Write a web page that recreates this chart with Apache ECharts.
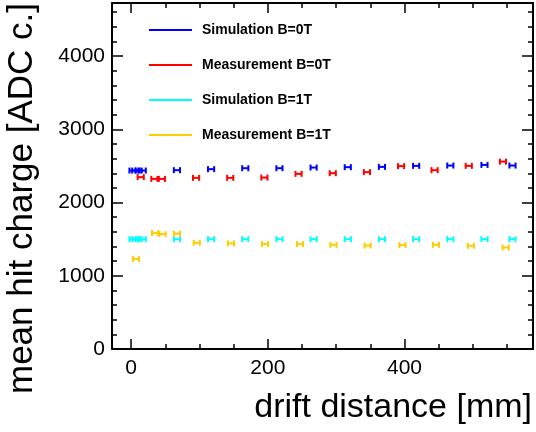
<!DOCTYPE html>
<html>
<head>
<meta charset="utf-8">
<script src="https://cdn.jsdelivr.net/npm/echarts@6/dist/echarts.min.js"></script>
<style>
html,body{margin:0;padding:0;background:#fff;}
#chart{width:536px;height:432px;}
</style>
</head>
<body>
<div id="chart"></div>
<script>
// ---- data ----
const seriesNames = ['Simulation B=0T', 'Measurement B=0T', 'Simulation B=1T', 'Measurement B=1T'];
const simB0X = [2, 6, 11, 17, 67, 117, 167, 217, 267, 317, 367, 417, 467, 517, 558];
const simB0Y = [2437, 2437, 2437, 2437, 2442, 2456, 2469, 2469, 2478, 2483, 2487, 2501, 2505, 2514, 2505];
const measB0X = [14, 34, 45, 95, 145, 195, 245, 295, 345, 395, 444, 494, 544];
const measB0Y = [2347, 2323, 2323, 2337, 2337, 2341, 2392, 2401, 2415, 2497, 2442, 2501, 2559];
const simB1X = [2, 6, 11, 17, 67, 117, 167, 217, 267, 317, 367, 417, 467, 517, 558];
const simB1Y = [1500, 1500, 1500, 1500, 1500, 1500, 1500, 1500, 1500, 1500, 1500, 1500, 1500, 1500, 1500];
const measB1X = [7, 35, 46, 67, 96, 146, 196, 247, 296, 346, 397, 446, 497, 548];
const measB1Y = [1228, 1583, 1569, 1575, 1450, 1443, 1432, 1432, 1423, 1413, 1419, 1423, 1409, 1386];
const xErr = 4.5; // half width of the horizontal error bars [mm]
const xTickLabels = [0, 200, 400];
const yTickLabels = [0, 1000, 2000, 3000, 4000];
const xTitle = 'drift distance [mm]';
const yTitle = 'mean hit charge [ADC c.]';
const colors = ['#0000ff', '#ff0000', '#00ffff', '#ffcc00'];

const FONT = "'Liberation Sans', Arial, Helvetica, sans-serif";
const X_MIN = -28, X_MAX = 588, Y_MIN = 0, Y_MAX = 4725;

function pts(xs, ys) { return xs.map((x, i) => [x, ys[i], xErr]); }

function renderErr(params, api) {
  const x = api.value(0), y = api.value(1), e = api.value(2);
  const p1 = api.coord([x - e, y]);
  const p2 = api.coord([x + e, y]);
  const h = 3;
  const style = { stroke: api.visual('color'), lineWidth: 2, fill: null };
  return {
    type: 'group',
    children: [
      { type: 'line', shape: { x1: p1[0], y1: p1[1], x2: p2[0], y2: p2[1] }, style: style },
      { type: 'line', shape: { x1: p1[0], y1: p1[1] - h, x2: p1[0], y2: p1[1] + h }, style: style },
      { type: 'line', shape: { x1: p2[0], y1: p2[1] - h, x2: p2[0], y2: p2[1] + h }, style: style }
    ]
  };
}

const allData = [pts(simB0X, simB0Y), pts(measB0X, measB0Y), pts(simB1X, simB1Y), pts(measB1X, measB1Y)];

const axisLine = { show: true, onZero: false, lineStyle: { color: '#000', width: 2 } };
const tickStyle = { color: '#000', width: 1.5 };

function xAxisDef(pos, showLabels) {
  return {
    type: 'value', position: pos, min: X_MIN, max: X_MAX, splitNumber: 3,
    axisLine: axisLine,
    axisTick: { show: true, inside: true, length: 10, lineStyle: tickStyle },
    minorTick: { show: true, splitNumber: 4, length: 5, lineStyle: tickStyle },
    splitLine: { show: false },
    axisLabel: {
      show: showLabels, margin: 9, color: '#000', fontSize: 21, fontFamily: FONT,
      formatter: v => (xTickLabels.indexOf(v) >= 0 ? String(v) : '')
    }
  };
}
function yAxisDef(pos, showLabels) {
  return {
    type: 'value', position: pos, min: Y_MIN, max: Y_MAX, interval: 1000,
    axisLine: axisLine,
    axisTick: { show: true, inside: true, length: 11, lineStyle: tickStyle },
    minorTick: { show: true, splitNumber: 5, length: 5, lineStyle: tickStyle },
    splitLine: { show: false },
    axisLabel: {
      show: showLabels, margin: 7, color: '#000', fontSize: 21, fontFamily: FONT,
      formatter: v => (yTickLabels.indexOf(v) >= 0 ? String(v) : '')
    }
  };
}

const chart = echarts.init(document.getElementById('chart'), null, { renderer: 'canvas' });
chart.setOption({
  animation: false,
  backgroundColor: '#fff',
  color: colors,
  grid: { left: 112, right: 3, top: 3, bottom: 83, containLabel: false },
  xAxis: [xAxisDef('bottom', true), xAxisDef('top', false)],
  yAxis: [yAxisDef('left', true), yAxisDef('right', false)],
  legend: {
    orient: 'vertical', left: 149, top: 23, padding: 0,
    itemWidth: 43, itemHeight: 2, itemGap: 21,
    icon: 'rect',
    textStyle: { color: '#000', fontSize: 14, fontWeight: 'bold', fontFamily: FONT, padding: [0, 0, 0, 5] },
    data: seriesNames
  },
  graphic: [
    { type: 'text', x: 532, y: 408, style: { text: xTitle, font: '34px ' + FONT, fill: '#000', align: 'right', verticalAlign: 'middle' } },
    { type: 'text', x: 22, y: 3, rotation: Math.PI / 2, style: { text: yTitle, font: '35px ' + FONT, fill: '#000', align: 'right', verticalAlign: 'middle' } }
  ],
  series: seriesNames.map((name, i) => ({
    name: name, type: 'custom', xAxisIndex: 0, yAxisIndex: 0,
    renderItem: renderErr, encode: { x: 0, y: 1 },
    itemStyle: { color: colors[i] },
    data: allData[i], z: 2 + i
  }))
});
</script>
</body>
</html>
